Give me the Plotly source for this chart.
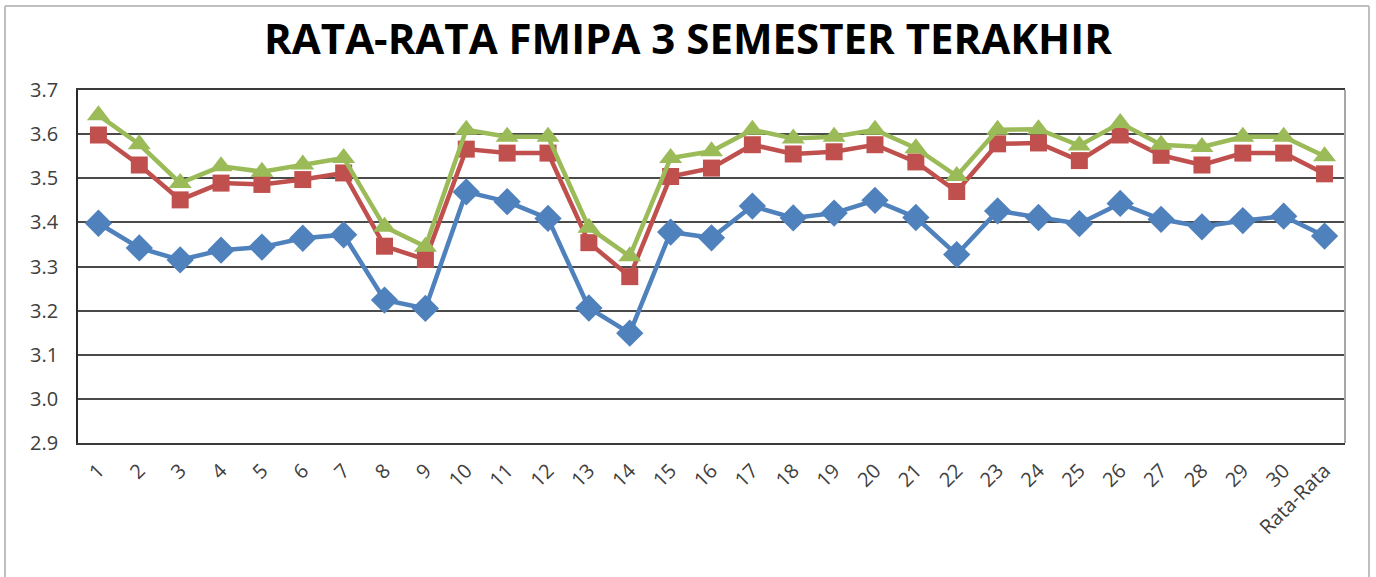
import plotly.graph_objects as go

categories = [str(i) for i in range(1, 31)] + ["Rata-Rata"]

series_blue = [3.398, 3.342, 3.315, 3.337, 3.344, 3.364, 3.372, 3.224, 3.205, 3.469,
               3.447, 3.409, 3.206, 3.149, 3.378, 3.365, 3.437, 3.410, 3.421, 3.450,
               3.411, 3.327, 3.426, 3.411, 3.397, 3.443, 3.407, 3.390, 3.404, 3.414,
               3.369]
series_red = [3.598, 3.530, 3.451, 3.489, 3.486, 3.497, 3.512, 3.346, 3.316, 3.566,
              3.557, 3.557, 3.354, 3.277, 3.504, 3.523, 3.576, 3.555, 3.560, 3.576,
              3.537, 3.470, 3.578, 3.580, 3.540, 3.598, 3.552, 3.530, 3.557, 3.557,
              3.510]
series_green = [3.643, 3.577, 3.489, 3.527, 3.515, 3.531, 3.546, 3.390, 3.345, 3.610,
                3.594, 3.594, 3.388, 3.323, 3.546, 3.561, 3.610, 3.590, 3.594, 3.610,
                3.568, 3.505, 3.610, 3.611, 3.574, 3.625, 3.576, 3.571, 3.594, 3.594,
                3.550]

series = [
    ("Series1", series_blue, "#4F81BD", "diamond", 21),
    ("Series2", series_red, "#C0504D", "square", 17),
    ("Series3", series_green, "#9BBB59", "triangle-up", 20),
]

fig = go.Figure()
for name, vals, color, sym, size in series:
    fig.add_trace(go.Scatter(
        x=categories, y=vals, name=name, mode="lines+markers",
        line=dict(color=color, width=4.5),
        marker=dict(symbol=sym, size=size, color=color, line=dict(width=0)),
    ))

L, R, T, B = 78, 31, 90, 134
W, H = 1376, 577
pw, ph = W - L - R, H - T - B

bx0, bx1 = (5 - L) / pw, (1369 - L) / pw
by_top = (H - B - 6) / ph
by_bot = -B / ph
border = dict(color="#BFBFBF", width=2)

fig.update_layout(
    width=W, height=H,
    margin=dict(l=L, r=R, t=T, b=B),
    paper_bgcolor="white", plot_bgcolor="white",
    showlegend=False,
    font=dict(family="Open Sans", color="#404040"),
    title=dict(text="<b>RATA-RATA FMIPA 3 SEMESTER TERAKHIR</b>",
               x=0.5, xanchor="center", y=1 - 39 / H, yanchor="middle",
               font=dict(size=42, color="#000000", family="Open Sans")),
    xaxis=dict(type="category", tickangle=-45, showgrid=False,
               showline=True, linecolor="#3a3a3a", linewidth=2, mirror=True,
               ticks="", ticklabelstandoff=6, tickfont=dict(size=20, color="#404040"),
               range=[-0.5, len(categories) - 0.5]),
    yaxis=dict(range=[2.9, 3.7], dtick=0.1, tickformat=".1f",
               showgrid=True, gridcolor="#4a4a4a", gridwidth=1.6,
               showline=True, linecolor="#2a2a2a", linewidth=1.6,
               zeroline=False, ticks="", ticklabelstandoff=14,
               tickfont=dict(size=20, color="#404040")),
    shapes=[
        dict(type="line", xref="paper", yref="paper", x0=1, x1=1, y0=0, y1=1,
             line=dict(color="#A6A6A6", width=2)),
        dict(type="line", xref="paper", yref="paper", x0=bx0, x1=bx0, y0=by_bot, y1=by_top,
             line=border, layer="below"),
        dict(type="line", xref="paper", yref="paper", x0=bx1, x1=bx1, y0=by_bot, y1=by_top,
             line=border, layer="below"),
        dict(type="line", xref="paper", yref="paper", x0=bx0, x1=bx1, y0=by_top, y1=by_top,
             line=border, layer="below"),
    ],
)

fig.write_html("out.html", config={"displayModeBar": False},
               post_script="document.body.style.margin='0';document.body.style.overflow='hidden';")
